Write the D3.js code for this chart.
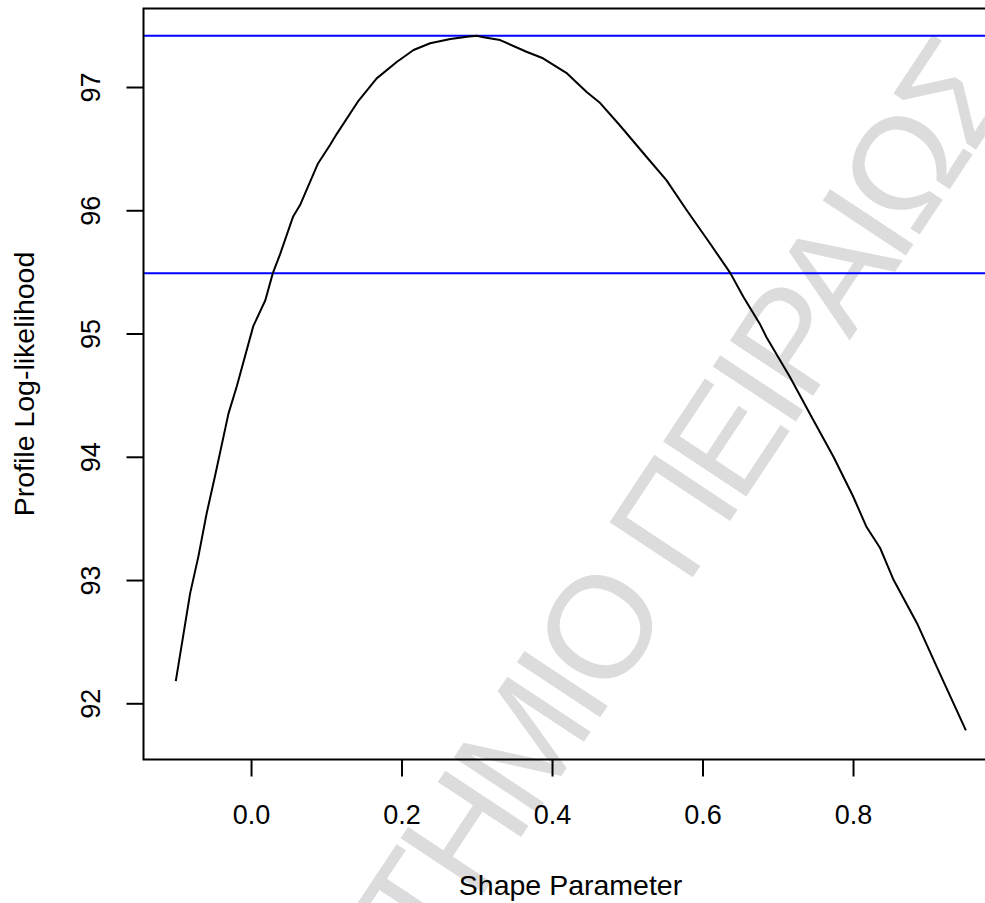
<!DOCTYPE html>
<html>
<head>
<meta charset="utf-8">
<script src="https://cdn.jsdelivr.net/npm/d3@7"></script>
<style>
  html, body { margin: 0; padding: 0; background: #ffffff; }
  svg { display: block; }
</style>
</head>
<body>
<script>
// ---- Data ----
const shapeParam = [-0.100, -0.081, -0.070, -0.059, -0.048, -0.030, -0.019, 0.003, 0.019, 0.029,
  0.039, 0.056, 0.065, 0.089, 0.105, 0.114, 0.143, 0.167, 0.194, 0.216,
  0.238, 0.265, 0.287, 0.300, 0.309, 0.331, 0.366, 0.388, 0.420, 0.446,
  0.464, 0.490, 0.526, 0.552, 0.579, 0.610, 0.637, 0.654, 0.676, 0.685,
  0.716, 0.747, 0.774, 0.800, 0.818, 0.836, 0.854, 0.885, 0.911, 0.950];
const profileLogLik = [92.18, 92.89, 93.19, 93.54, 93.84, 94.35, 94.57, 95.06, 95.27, 95.49,
  95.65, 95.95, 96.04, 96.38, 96.53, 96.62, 96.89, 97.07, 97.205, 97.30,
  97.355, 97.389, 97.408, 97.415, 97.403, 97.381, 97.286, 97.233, 97.11, 96.96,
  96.87, 96.69, 96.43, 96.245, 96.00, 95.73, 95.49, 95.30, 95.08, 94.97,
  94.65, 94.30, 94.00, 93.68, 93.43, 93.26, 93.00, 92.65, 92.30, 91.78];
const refLevels = [97.416, 95.489];          // maximum and 95% cut-off
const xTicks = [0.0, 0.2, 0.4, 0.6, 0.8];
const yTicks = [92, 93, 94, 95, 96, 97];
const xTitle = "Shape Parameter";
const yTitle = "Profile Log-likelihood";
const watermark = "ΠΑΝΕΠΙΣΤΗΜΙΟ ΠΕΙΡΑΙΩΣ";

// ---- Layout ----
const W = 985, H = 903;
const plotLeft = 143.5, plotTop = 8.5, plotBottom = 759.5, plotRight = 997.5;
const font = "'Liberation Sans', Arial, Helvetica, sans-serif";
const tickFont = 27, titleFont = 28.5;

const svg = d3.select("body").append("svg")
  .attr("width", W).attr("height", H)
  .attr("viewBox", `0 0 ${W} ${H}`);

// Scales (R-style 4% padded domains)
const x = d3.scaleLinear().domain([-0.1429, 0.9920]).range([plotLeft, plotRight]);
const y = d3.scaleLinear().domain([91.544, 97.637]).range([plotBottom, plotTop]);

// Watermark (behind everything)
svg.append("text")
  .attr("transform", "translate(1016.7,88) rotate(-56.5)")
  .attr("text-anchor", "end")
  .attr("font-family", font)
  .attr("font-size", 145)
  .style("letter-spacing", "-8px")
  .attr("fill", "#dcdcdc")
  .text(watermark);

// Clip for plot region
svg.append("clipPath").attr("id", "plotclip")
  .append("rect")
  .attr("x", plotLeft).attr("y", plotTop)
  .attr("width", plotRight - plotLeft).attr("height", plotBottom - plotTop);

const plotG = svg.append("g").attr("clip-path", "url(#plotclip)");

// Reference lines
plotG.selectAll("line.ref").data(refLevels).enter().append("line")
  .attr("class", "ref")
  .attr("x1", plotLeft).attr("x2", plotRight)
  .attr("y1", d => y(d)).attr("y2", d => y(d))
  .attr("stroke", "#0000ff").attr("stroke-width", 2);

// Profile curve
const line = d3.line().x((d, i) => x(shapeParam[i])).y(d => y(d));
plotG.append("path")
  .datum(profileLogLik)
  .attr("d", line)
  .attr("fill", "none")
  .attr("stroke", "#000000")
  .attr("stroke-width", 2)
  .attr("stroke-linejoin", "round");

// Box
svg.append("rect")
  .attr("x", plotLeft).attr("y", plotTop)
  .attr("width", plotRight - plotLeft).attr("height", plotBottom - plotTop)
  .attr("fill", "none").attr("stroke", "#000").attr("stroke-width", 2);

// X axis
const xAxis = d3.axisBottom(x).tickValues(xTicks).tickFormat(d3.format(".1f"))
  .tickSizeInner(17).tickSizeOuter(0).tickPadding(0);
const gx = svg.append("g").attr("transform", `translate(0,${plotBottom})`).call(xAxis);
gx.select(".domain").remove();
gx.selectAll(".tick line").attr("stroke", "#000").attr("stroke-width", 2);
gx.selectAll(".tick text")
  .attr("font-family", font).attr("font-size", tickFont).attr("fill", "#000")
  .attr("dy", null).attr("y", 824 - plotBottom);

// Y axis
const yAxis = d3.axisLeft(y).tickValues(yTicks).tickFormat(d3.format("d"))
  .tickSizeInner(17).tickSizeOuter(0).tickPadding(0);
const gy = svg.append("g").attr("transform", `translate(${plotLeft},0)`).call(yAxis);
gy.select(".domain").remove();
gy.selectAll(".tick line").attr("stroke", "#000").attr("stroke-width", 2);
gy.selectAll(".tick text")
  .attr("font-family", font).attr("font-size", tickFont).attr("fill", "#000")
  .attr("x", null).attr("dy", null)
  .attr("text-anchor", "middle")
  .attr("transform", `translate(${100 - plotLeft},0) rotate(-90)`);

// Axis titles (centred on the plot region, as R does)
svg.append("text")
  .attr("x", (plotLeft + plotRight) / 2)
  .attr("y", 895)
  .attr("text-anchor", "middle")
  .attr("font-family", font).attr("font-size", titleFont).attr("fill", "#000")
  .text(xTitle);

svg.append("text")
  .attr("transform", `translate(34,${(plotTop + plotBottom) / 2}) rotate(-90)`)
  .attr("text-anchor", "middle")
  .attr("font-family", font).attr("font-size", titleFont).attr("fill", "#000")
  .text(yTitle);
</script>
</body>
</html>
